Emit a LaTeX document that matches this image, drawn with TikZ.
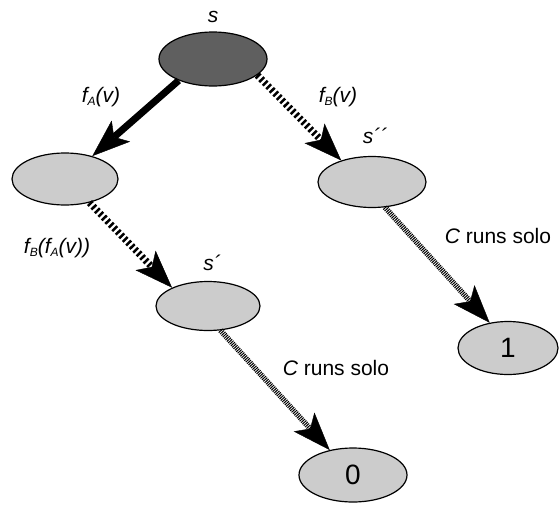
\documentclass[tikz,border=0pt]{standalone}
\usepackage{fontspec}
\setmainfont{Liberation Sans}
\usetikzlibrary{shapes.geometric,arrows.meta}
\definecolor{darkg}{RGB}{95,95,95}
\definecolor{lightg}{RGB}{204,204,204}
\newcommand\lsb[1]{\raisebox{-0.3ex}{\fontsize{12}{12}\selectfont #1}}
\begin{document}
\begin{tikzpicture}[x=1pt,y=-1pt,
  state/.style={ellipse, draw=black, line width=1.2pt, fill=lightg, inner sep=0pt, font=\fontsize{28}{28}\selectfont},
  lbl/.style={anchor=base, inner sep=0pt, font=\fontsize{21}{21}\selectfont},
  tip/.style={-{Stealth[length=38pt,width=28pt,inset=9pt,line width=0.4pt]}},
  solidarrow/.style={tip, line width=7pt},
  dasharrow/.style={tip, line width=7pt, dash pattern=on 2.5pt off 2.5pt},
  hatcharrow/.style={tip, line width=5.5pt, dash pattern=on 1pt off 1pt}]
\useasboundingbox (0,0) rectangle (560,504);
\node[state, fill=darkg, minimum width=108pt, minimum height=54pt] (s) at (213,59) {};
\node[state, minimum width=106pt, minimum height=52pt] (l) at (65,179) {};
\node[state, minimum width=108pt, minimum height=51pt] (spp) at (372,182) {};
\node[state, minimum width=104pt, minimum height=49pt] (sp) at (208,306) {};
\node[state, minimum width=100pt, minimum height=53pt] (one) at (508,348) {1};
\node[state, minimum width=108pt, minimum height=54pt] (zero) at (353,475) {0};
\node[lbl] (ls) at (213,22) {\itshape s};
\node[lbl] (lfa) at (101,102) {\itshape f\lsb{A}(v)};
\node[lbl] (lfb) at (338,102) {\itshape f\lsb{B}(v)};
\node[lbl] (lspp) at (375,143) {\itshape s´´};
\node[lbl] (lfbfa) at (57,253) {\itshape f\lsb{B}(f\lsb{A}(v))};
\node[lbl] (lsp) at (212,270) {\itshape s´};
\node[lbl] (lc1) at (498,243) {{\itshape C} runs solo};
\node[lbl] (lc2) at (336,375) {{\itshape C} runs solo};
\draw[solidarrow] (s.212) -- (l.40);
\draw[dasharrow] (s.-20) -- (spp.145);
\draw[dasharrow] (l.-44) -- (sp.153);
\draw[hatcharrow] (spp.-63) -- (one.126);
\draw[hatcharrow] (sp.-63) -- (zero.133);
\end{tikzpicture}
\end{document}
